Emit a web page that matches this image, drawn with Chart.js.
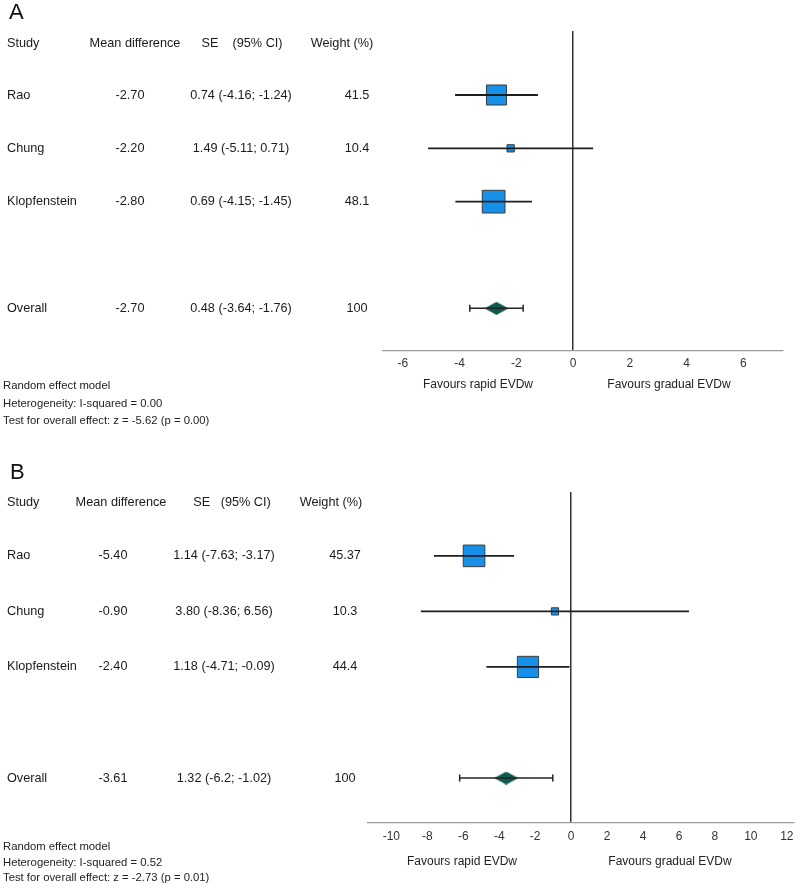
<!DOCTYPE html>
<html><head><meta charset="utf-8">
<script src="https://cdn.jsdelivr.net/npm/chart.js@4"></script>
<style>
html,body{margin:0;padding:0;background:#fff}
#wrap{position:relative;width:796px;height:888px;background:#fff}
canvas{position:absolute;left:0}
</style></head><body>
<div id="wrap">
<canvas id="ca" width="796" height="440" style="top:0px"></canvas>
<canvas id="cb" width="796" height="448" style="top:440px"></canvas>
</div>
<script>
// ---------- DATA ----------
const studyLabels = ['Rao', 'Chung', 'Klopfenstein', 'Overall'];
const rowPos = [0, 1, 2, 4];

// Panel A
const mdA = [-2.70, -2.20, -2.80, -2.70];
const seA = [0.74, 1.49, 0.69, 0.48];
const loA = [-4.16, -5.11, -4.15, -3.64];
const hiA = [-1.24, 0.71, -1.45, -1.76];
const wA  = [41.5, 10.4, 48.1, 100];
const ticksA = [-6, -4, -2, 0, 2, 4, 6];
const footerA = ['Random effect model', 'Heterogeneity: I-squared = 0.00', 'Test for overall effect: z = -5.62 (p = 0.00)'];

// Panel B
const mdB = [-5.40, -0.90, -2.40, -3.61];
const seB = [1.14, 3.80, 1.18, 1.32];
const loB = [-7.63, -8.36, -4.71, -6.2];
const hiB = [-3.17, 6.56, -0.09, -1.02];
const wB  = [45.37, 10.3, 44.4, 100];
const ticksB = [-10, -8, -6, -4, -2, 0, 2, 4, 6, 8, 10, 12];
const footerB = ['Random effect model', 'Heterogeneity: I-squared = 0.52', 'Test for overall effect: z = -2.73 (p = 0.01)'];

const headerA = ['Study', 'Mean difference', 'SE    (95% CI)', 'Weight (%)'];
const headerB = ['Study', 'Mean difference', 'SE   (95% CI)', 'Weight (%)'];
const favourLabels = ['Favours rapid EVDw', 'Favours gradual EVDw'];

// ---------- LAYOUT / STYLE ----------
const FONT = '"Liberation Sans", Arial, Helvetica, sans-serif';
const layA = {
  letter: 'A', letterX: 9, letterY: 13,
  left: 383, right: 13, top: 31, axisY: 351, H: 440,
  xmin: -6.7, xmax: 7.4, ymin: -1.2, ymax: 4.8,
  headY: 43, headX: [7, 135, 242, 342], colX: [7, 130, 241, 357],
  tickPad: 5, favY: 385, favX: [478, 669], footY: [386, 404, 421]
};
const layB = {
  letter: 'B', letterX: 10, letterY: 33,
  left: 368, right: 2, top: 52, axisY: 383, H: 448,
  xmin: -11.3, xmax: 12.4, ymin: -1.15, ymax: 4.81,
  headY: 62, headX: [7, 121, 232, 331], colX: [7, 113, 224, 345],
  tickPad: 6, favY: 422, favX: [462, 670], footY: [407, 423, 438]
};

function boxSide(w) { return 3 + 0.41 * w; }

function makeDiamond() {
  const c = document.createElement('canvas');
  c.width = 24; c.height = 13;
  const g = c.getContext('2d');
  g.fillStyle = '#0d5a50';
  g.beginPath();
  g.moveTo(0, 6.5); g.lineTo(12, 0); g.lineTo(24, 6.5); g.lineTo(12, 13); g.closePath();
  g.fill();
  return c;
}

function build(canvasId, lay, md, se, lo, hi, w, ticks, header, footer) {
  const nStudies = md.length - 1;
  const datasets = [];
  // boxes
  datasets.push({
    data: md.slice(0, nStudies).map((v, i) => ({ x: v, y: rowPos[i] })),
    pointStyle: 'rect',
    pointRadius: ctx => boxSide(w[ctx.dataIndex]) / Math.SQRT2,
    backgroundColor: '#1690e8',
    borderColor: '#3c3c3c',
    borderWidth: 1,
    order: 2
  });
  // CI lines
  for (let i = 0; i < nStudies; i++) {
    datasets.push({
      data: [{ x: lo[i], y: rowPos[i] }, { x: hi[i], y: rowPos[i] }],
      showLine: true, pointRadius: 0, borderColor: '#1e1e1e', borderWidth: 1.8, order: 0
    });
  }
  // overall CI with caps
  const o = nStudies;
  datasets.push({
    data: [{ x: lo[o], y: rowPos[o] }, { x: hi[o], y: rowPos[o] }],
    showLine: true, borderColor: '#222', borderWidth: 1.5,
    pointStyle: 'line', pointRotation: 90, pointRadius: 3.5,
    pointBorderColor: '#222', pointBorderWidth: 1.5, order: 0
  });
  // overall diamond
  datasets.push({
    data: [{ x: md[o], y: rowPos[o] }],
    pointStyle: makeDiamond(), pointRadius: 12, order: 1
  });

  const textPlugin = {
    id: 'forestText',
    afterDraw(chart) {
      const c = chart.ctx;
      const ys = chart.scales.y;
      c.save();
      c.textBaseline = 'middle';
      c.fillStyle = '#111';
      c.font = '22px ' + FONT;
      c.textAlign = 'left';
      c.fillText(lay.letter, lay.letterX, lay.letterY);
      c.font = '12.7px ' + FONT;
      c.fillStyle = '#1a1a1a';
      header.forEach((h, j) => {
        c.textAlign = j === 0 ? 'left' : 'center';
        c.fillText(h, lay.headX[j], lay.headY);
      });
      for (let i = 0; i < md.length; i++) {
        const y = ys.getPixelForValue(rowPos[i]);
        const cells = [
          studyLabels[i],
          md[i].toFixed(2),
          se[i].toFixed(2) + ' (' + String(lo[i]) + '; ' + String(hi[i]) + ')',
          String(w[i])
        ];
        cells.forEach((t, j) => {
          c.textAlign = j === 0 ? 'left' : 'center';
          c.fillText(t, lay.colX[j], y);
        });
      }
      c.font = '12px ' + FONT;
      c.fillStyle = '#222';
      c.textAlign = 'center';
      c.fillText(favourLabels[0], lay.favX[0], lay.favY);
      c.fillText(favourLabels[1], lay.favX[1], lay.favY);
      c.font = '11.3px ' + FONT;
      c.textAlign = 'left';
      footer.forEach((t, k) => c.fillText(t, 3, lay.footY[k]));
      c.restore();
    }
  };

  return new Chart(document.getElementById(canvasId), {
    type: 'scatter',
    data: { datasets },
    options: {
      responsive: false, animation: false, devicePixelRatio: 1,
      layout: { autoPadding: false, padding: { left: lay.left, right: lay.right, top: lay.top, bottom: lay.H - lay.axisY - 20 } },
      plugins: { legend: { display: false }, tooltip: { enabled: false }, title: { display: false } },
      scales: {
        x: {
          type: 'linear', min: lay.xmin, max: lay.xmax,
          afterBuildTicks: s => { s.ticks = ticks.map(v => ({ value: v })); },
          afterFit: s => { s.height = 20; s.paddingLeft = 0; s.paddingRight = 0; },
          grid: {
            drawTicks: false,
            color: ctx => (ctx.tick && ctx.tick.value === 0) ? '#333' : 'rgba(0,0,0,0)',
            lineWidth: 1.5
          },
          border: { display: true, color: '#9a9a9a', width: 1.2 },
          ticks: { padding: lay.tickPad, color: '#333', font: { family: FONT, size: 12 }, maxRotation: 0, autoSkip: false }
        },
        y: { type: 'linear', display: false, reverse: true, min: lay.ymin, max: lay.ymax }
      }
    },
    plugins: [textPlugin]
  });
}

build('ca', layA, mdA, seA, loA, hiA, wA, ticksA, headerA, footerA);
build('cb', layB, mdB, seB, loB, hiB, wB, ticksB, headerB, footerB);
</script>
</body></html>
